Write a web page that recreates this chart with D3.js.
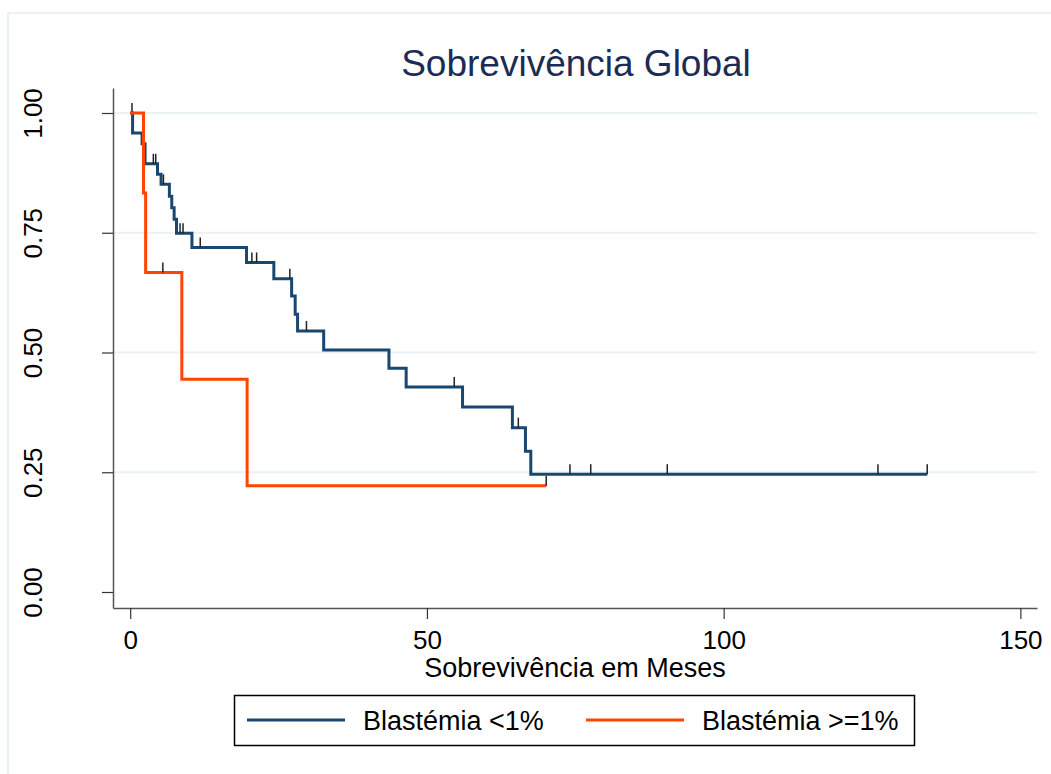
<!DOCTYPE html>
<html>
<head>
<meta charset="utf-8">
<script src="https://cdn.jsdelivr.net/npm/d3@7"></script>
<style>
        body { margin: 0; background: #fff; }
        text { font-family: 'Liberation Sans', Arial, sans-serif; }
</style>
</head>
<body>
<div id="chart"></div>
<script>
// Kaplan-Meier steps (time in months, survival after the step)
var blueTimes = [0, 0.4, 2.0, 2.5, 4.6, 5.2, 6.6, 7.0, 7.4, 7.8, 10.4, 19.6, 24.2, 27.2, 27.8, 28.2, 32.6, 43.6, 46.5, 56.0, 64.4, 66.6, 67.5];
var blueSurv = [1.0, 0.958, 0.936, 0.894, 0.872, 0.851, 0.826, 0.802, 0.778, 0.749, 0.719, 0.688, 0.654, 0.618, 0.580, 0.545, 0.505, 0.467, 0.428, 0.386, 0.343, 0.294, 0.246];
var blueEnd = 134.3;
var blueCensor = [0.3, 3.9, 4.3, 5.6, 8.4, 8.9, 11.8, 20.5, 21.3, 26.9, 29.7, 54.6, 65.4, 74.1, 77.6, 90.5, 126.0, 134.3];

var orangeTimes = [0, 2.24, 2.6, 8.7, 19.7];
var orangeSurv = [1.0, 0.833, 0.667, 0.444, 0.222];
var orangeEnd = 70.1;
var orangeCensor = [5.5, 70.1];

var xTicks = [0, 50, 100, 150];
var yTicks = [0, 0.25, 0.5, 0.75, 1];
var gridTicks = [0.25, 0.5, 0.75, 1];

var seriesNames = ['Blastémia <1%', 'Blastémia >=1%'];
var seriesColors = ['#1a476f', '#ff4500'];

var width = 1051, height = 774;
var plot = { left: 113, right: 1037, top: 88, bottom: 608 };

var svg = d3.select('#chart').append('svg')
        .attr('width', width)
        .attr('height', height);

// light frame of the graph region
svg.append('rect')
        .attr('x', 8).attr('y', 13)
        .attr('width', 1100).attr('height', 800)
        .attr('fill', '#fff')
        .attr('stroke', '#e6eef1')
        .attr('stroke-width', 1.5);

var xscale = d3.scaleLinear().domain([-2.9, 152.8]).range([plot.left, plot.right]);
var yscale = d3.scaleLinear().domain([-0.0334, 1.0522]).range([plot.bottom, plot.top]);

// gridlines
svg.append('g').selectAll('line')
        .data(gridTicks)
        .enter().append('line')
        .attr('x1', plot.left).attr('x2', plot.right)
        .attr('y1', function (d) { return yscale(d); })
        .attr('y2', function (d) { return yscale(d); })
        .attr('stroke', '#eaf2f3')
        .attr('stroke-width', 2);

// x axis
var gx = svg.append('g')
        .attr('transform', 'translate(0,' + plot.bottom + ')')
        .call(d3.axisBottom(xscale).tickValues(xTicks).tickSize(11).tickSizeOuter(0));
gx.select('.domain').attr('stroke', '#555').attr('stroke-width', 1.5);
gx.selectAll('.tick line').attr('stroke', '#333').attr('stroke-width', 1.2);
gx.selectAll('.tick text')
        .attr('y', 41).attr('dy', 0)
        .attr('fill', '#000')
        .style('font-size', '26px')
        .style('font-family', "'Liberation Sans', Arial, sans-serif");

// y axis with rotated labels
var gy = svg.append('g')
        .attr('transform', 'translate(' + plot.left + ',0)')
        .call(d3.axisLeft(yscale).tickValues(yTicks).tickFormat(d3.format('.2f')).tickSize(11).tickSizeOuter(0));
gy.select('.domain').attr('stroke', '#555').attr('stroke-width', 1.5);
gy.selectAll('.tick line').attr('stroke', '#333').attr('stroke-width', 1.2);
gy.selectAll('.tick text')
        .attr('x', 0).attr('y', 0).attr('dy', 0)
        .attr('text-anchor', 'middle')
        .attr('transform', 'translate(' + (42 - plot.left) + ',0) rotate(-90)')
        .attr('fill', '#000')
        .style('font-size', '26px')
        .style('font-family', "'Liberation Sans', Arial, sans-serif");

var line = d3.line()
        .x(function (d) { return xscale(d[0]); })
        .y(function (d) { return yscale(d[1]); })
        .curve(d3.curveStepAfter);

function survAt(times, surv, t) {
        var s = surv[0];
        for (var i = 0; i < times.length; i++) {
                if (times[i] <= t) s = surv[i];
        }
        return s;
}

function drawCurve(times, surv, end, censor, color) {
        var pts = times.map(function (t, i) { return [t, surv[i]]; });
        pts.push([end, surv[surv.length - 1]]);
        svg.append('path')
                .datum(pts)
                .attr('fill', 'none')
                .attr('stroke', color)
                .attr('stroke-width', 3)
                .attr('d', line);
        svg.append('g').selectAll('line')
                .data(censor)
                .enter().append('line')
                .attr('x1', function (d) { return xscale(d); })
                .attr('x2', function (d) { return xscale(d); })
                .attr('y1', function (d) { return yscale(survAt(times, surv, d)); })
                .attr('y2', function (d) { return yscale(survAt(times, surv, d)) - 10; })
                .attr('stroke', '#222')
                .attr('stroke-width', 1.5);
}

drawCurve(blueTimes, blueSurv, blueEnd, blueCensor, seriesColors[0]);
drawCurve(orangeTimes, orangeSurv, orangeEnd, orangeCensor, seriesColors[1]);

// titles
svg.append('text')
        .attr('x', 576).attr('y', 76)
        .attr('text-anchor', 'middle')
        .attr('fill', '#1c2c54')
        .style('font-size', '37px')
        .text('Sobrevivência Global');

svg.append('text')
        .attr('x', 575).attr('y', 677)
        .attr('text-anchor', 'middle')
        .attr('fill', '#000')
        .style('font-size', '27px')
        .text('Sobrevivência em Meses');

// legend
var legend = svg.append('g');
legend.append('rect')
        .attr('x', 234.5).attr('y', 695.5)
        .attr('width', 680).attr('height', 50)
        .attr('fill', '#fff')
        .attr('stroke', '#000')
        .attr('stroke-width', 1.5);
var legendX = [247, 586];
seriesNames.forEach(function (name, i) {
        legend.append('line')
                .attr('x1', legendX[i]).attr('x2', legendX[i] + 98)
                .attr('y1', 720).attr('y2', 720)
                .attr('stroke', seriesColors[i])
                .attr('stroke-width', 3);
        legend.append('text')
                .attr('x', legendX[i] + 116).attr('y', 730)
                .attr('fill', '#000')
                .style('font-size', '27px')
                .text(name);
});
</script>
</body>
</html>
